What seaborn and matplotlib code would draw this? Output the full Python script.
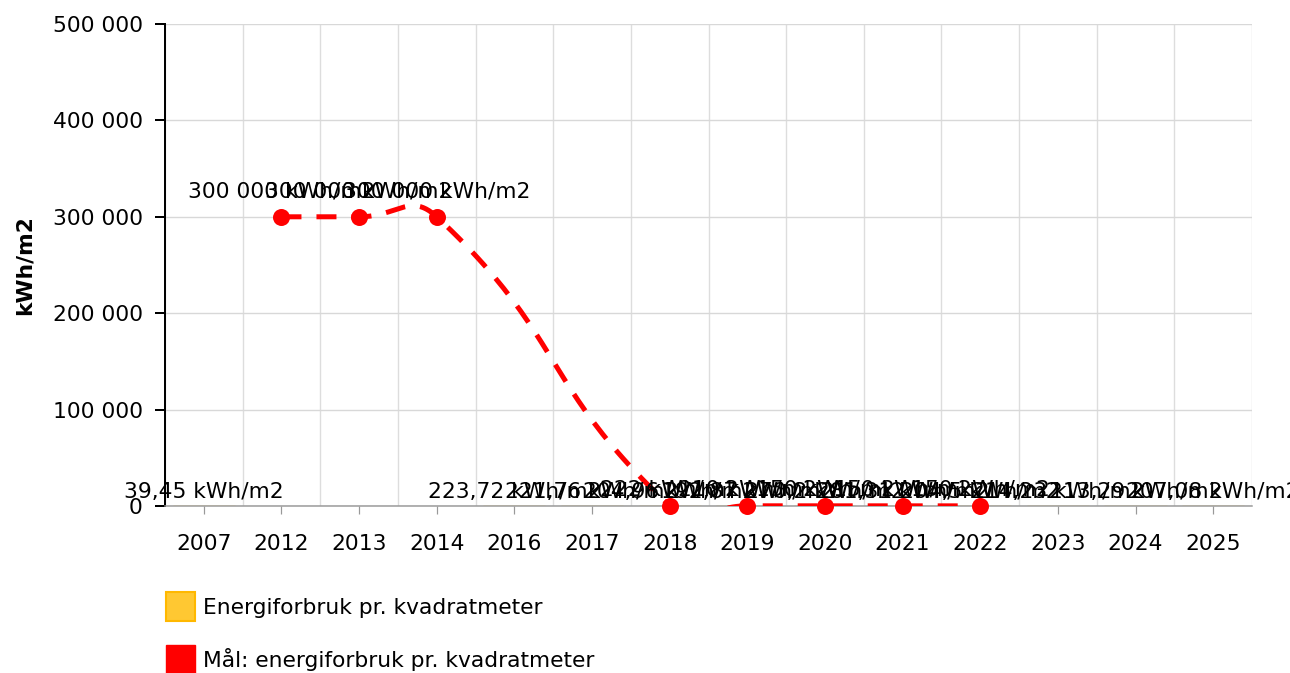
import numpy as np
import pandas as pd
import matplotlib
matplotlib.use("Agg")
import matplotlib.pyplot as plt
import seaborn as sns
from matplotlib.patches import Patch

# --- DATA ---
YEARS = ['2007', '2012', '2013', '2014', '2016', '2017', '2018', '2019',
         '2020', '2021', '2022', '2023', '2024', '2025']
ENERGY = [39.45, np.nan, np.nan, np.nan, 223.72, 221.76, 204.96, 192.87,
          270.2, 281.31, 204.5, 214.23, 213.29, 207.08]
TARGET = [np.nan, 300000, 300000, 300000, np.nan, np.nan, 222, 210,
          150, 150, 150, np.nan, np.nan, np.nan]
Y_TICKS = [0, 100000, 200000, 300000, 400000, 500000]
SERIES_NAMES = ['Energiforbruk pr. kvadratmeter', 'Mål: energiforbruk pr. kvadratmeter']
UNIT = 'kWh/m2'
# -------------

YELLOW = '#ffc832'
YELLOW_EDGE = '#ffb800'
RED = '#ff0000'
PX = 0.72  # points per pixel at dpi 100
AX_W, AX_H = 1087, 482  # plot area in pixels
Y_MAX = 500000


def fmt(v):
    if float(v).is_integer():
        return f'{int(v):,}'.replace(',', ' ')
    s = f'{v:.2f}'.rstrip('0').rstrip('.')
    return s.replace('.', ',')


def smooth_curve(xs, ys, smooth=0.5, n=50):
    # bezier smoothing through the points, control points worked out in pixel space
    sx = AX_W / len(YEARS)
    sy = AX_H / Y_MAX
    P = np.column_stack([np.asarray(xs) * sx, np.asarray(ys) * sy])
    m = len(P)
    cps = []
    for i in range(m):
        prev = P[i - 1] if i > 0 else P[i]
        nxt = P[i + 1] if i < m - 1 else P[i]
        v = (nxt - prev) * smooth
        d0 = np.hypot(*(P[i] - prev))
        d1 = np.hypot(*(P[i] - nxt))
        tot = d0 + d1
        if tot:
            d0, d1 = d0 / tot, d1 / tot
        cps.append((P[i] - v * d0, P[i] + v * d1))
    t = np.linspace(0, 1, n)[1:, None]
    out = [P[:1]]
    for i in range(1, m):
        p0, p1, p2, p3 = P[i - 1], cps[i - 1][1], cps[i][0], P[i]
        out.append((1 - t) ** 3 * p0 + 3 * (1 - t) ** 2 * t * p1
                   + 3 * (1 - t) * t ** 2 * p2 + t ** 3 * p3)
    out = np.vstack(out)
    return out[:, 0] / sx, out[:, 1] / sy


sns.set_theme(style="white")
plt.rcParams['font.family'] = ['DejaVu Sans']
plt.rcParams['text.color'] = 'black'
FS = 15.7

df = pd.DataFrame({'year': YEARS, 'energy': ENERGY, 'target': TARGET})
df['pos'] = np.arange(len(YEARS))

fig = plt.figure(figsize=(12.9, 6.73), dpi=100)
ax = fig.add_axes([165 / 1290, 1 - 506 / 673, AX_W / 1290, AX_H / 673])

sns.barplot(data=df, x='year', y='energy', order=YEARS, color=YELLOW,
            edgecolor=YELLOW_EDGE, width=0.8, ax=ax, zorder=2)

# target line
tgt = df.dropna(subset=['target'])
cx, cy = smooth_curve(tgt['pos'].values.astype(float), tgt['target'].values.astype(float))
ax.plot(cx, cy, color=RED, lw=5 * PX, dashes=(4, 3), zorder=3)
sns.scatterplot(data=tgt, x='pos', y='target', color=RED, s=(17 * PX) ** 2,
                linewidth=0, ax=ax, zorder=4, legend=False, clip_on=False)

# data labels
for _, r in df.dropna(subset=['energy']).iterrows():
    ax.annotate(f"{fmt(r['energy'])} {UNIT}", (r['pos'], r['energy']),
                xytext=(0, 4 * PX), textcoords='offset points',
                ha='center', va='bottom', fontsize=FS, color='black', zorder=5,
                annotation_clip=False)
for _, r in tgt.iterrows():
    off = 15 if r['target'] > 1000 else 6
    ax.annotate(f"{fmt(r['target'])} {UNIT}", (r['pos'], r['target']),
                xytext=(0, off * PX), textcoords='offset points',
                ha='center', va='bottom', fontsize=FS, color='black', zorder=5,
                annotation_clip=False)

# axes styling
ax.set_xlim(-0.5, len(YEARS) - 0.5)
ax.set_ylim(0, Y_MAX)
ax.set_yticks(Y_TICKS)
ax.set_yticklabels([fmt(v) for v in Y_TICKS], fontsize=FS)
ax.set_xticks(range(len(YEARS)))
ax.set_xticklabels(YEARS, fontsize=FS)
ax.set_xlabel('')
ax.set_ylabel('')

ax.set_xticks(np.arange(len(YEARS) + 1) - 0.5, minor=True)
ax.grid(False)
ax.grid(True, which='minor', axis='x', color='#dddddd', lw=1)
ax.grid(True, which='major', axis='y', color='#d8d8d8', lw=1)
ax.set_axisbelow(True)

for s in ['top', 'right']:
    ax.spines[s].set_visible(False)
ax.spines['left'].set_color('black')
ax.spines['left'].set_linewidth(2 * PX)
ax.spines['bottom'].set_color('#999999')
ax.spines['bottom'].set_linewidth(1.5 * PX)
ax.tick_params(axis='y', which='major', left=True, length=10 * PX, width=2 * PX,
               color='black', pad=12 * PX, labelcolor='black')
ax.tick_params(axis='x', which='major', bottom=True, length=8 * PX, width=1.2 * PX,
               color='#999999', pad=20 * PX, labelcolor='black')
ax.tick_params(axis='x', which='minor', bottom=False)

fig.text(25 / 1290, 1 - 265 / 673, UNIT, rotation=90, ha='center', va='center',
         fontsize=FS, fontweight='bold', color='black')

handles = [Patch(facecolor=YELLOW, edgecolor=YELLOW_EDGE, lw=1.5),
           Patch(facecolor=RED, edgecolor=RED, lw=1)]
fig.legend(handles, SERIES_NAMES, loc='upper left',
           bbox_to_anchor=(166 / 1290, 1 - 592 / 673), frameon=False,
           fontsize=FS, handlelength=1.33, handleheight=1.67, handletextpad=0.37,
           labelspacing=1.12, borderpad=0, borderaxespad=0, labelcolor='black')

fig.savefig('out.png', dpi=100)
plt.close(fig)
